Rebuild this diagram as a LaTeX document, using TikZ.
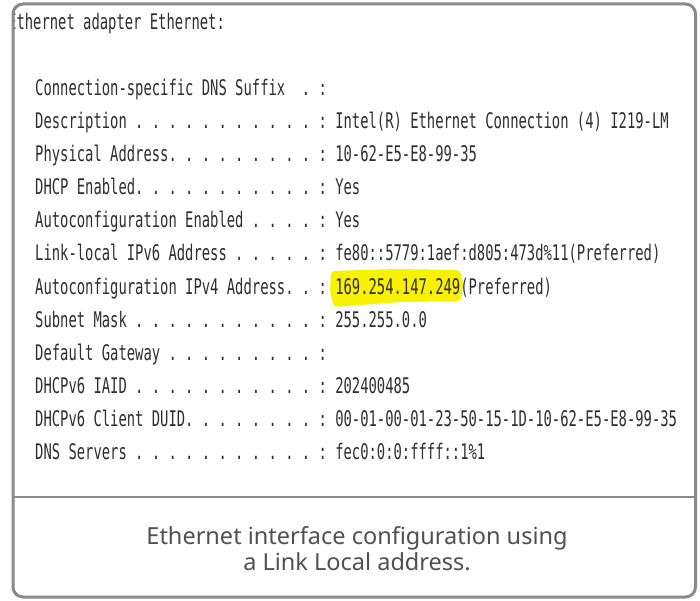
\documentclass[tikz,border=0pt]{standalone}
\usepackage{fontspec}
\usepackage{graphicx}
\setmainfont{Noto Sans}
\newfontfamily\consfont{DejaVu Sans Mono}
\definecolor{framegray}{HTML}{8A8A8A}
\definecolor{termtext}{HTML}{2E2E2E}
\definecolor{captext}{HTML}{505050}
\definecolor{marker}{HTML}{F8F200}
% condensed console text: monospace glyphs squeezed horizontally
\newcommand\termtxt[1]{\scalebox{0.644}[1]{\frenchspacing #1}}
\tikzset{
  termline/.style={anchor=base west, inner sep=0pt, text=termtext,
    font=\consfont\fontsize{21.5}{25}\selectfont},
  captionline/.style={anchor=base, inner sep=0pt, text=captext,
    font=\fontsize{23.5}{28}\selectfont},
  frameline/.style={draw=framegray, line width=3pt},
}
\begin{document}
\begin{tikzpicture}[x=1pt,y=-1pt]
\useasboundingbox (0,0) rectangle (700,601);
\fill[white] (0,0) rectangle (700,601);

% marker highlight behind the IPv4 address
\fill[marker, rounded corners=4pt]
  (331,271) -- (395,269) -- (460,270) -- (463,283) -- (461,301)
  -- (400,302) -- (334,307) -- (330,292) -- cycle;

% ipconfig output
\node[termline] (hdr) at (8,30) {\termtxt{Ethernet adapter Ethernet:}};
\node[termline] (l1)  at (35,96)  {\termtxt{Connection-specific DNS Suffix\ \ . :}};
\node[termline] (l2)  at (35,129) {\termtxt{Description . . . . . . . . . . . : Intel(R) Ethernet Connection (4) I219-LM}};
\node[termline] (l3)  at (35,162) {\termtxt{Physical Address. . . . . . . . . : 10-62-E5-E8-99-35}};
\node[termline] (l4)  at (35,195) {\termtxt{DHCP Enabled. . . . . . . . . . . : Yes}};
\node[termline] (l5)  at (35,228) {\termtxt{Autoconfiguration Enabled . . . . : Yes}};
\node[termline] (l6)  at (35,261) {\termtxt{Link-local IPv6 Address . . . . . : fe80::5779:1aef:d805:473d\%11(Preferred)}};
\node[termline] (l7)  at (35,294) {\termtxt{Autoconfiguration IPv4 Address. . : 169.254.147.249(Preferred)}};
\node[termline] (l8)  at (35,327) {\termtxt{Subnet Mask . . . . . . . . . . . : 255.255.0.0}};
\node[termline] (l9)  at (35,360) {\termtxt{Default Gateway . . . . . . . . . :}};
\node[termline] (l10) at (35,393) {\termtxt{DHCPv6 IAID . . . . . . . . . . . : 202400485}};
\node[termline] (l11) at (35,426) {\termtxt{DHCPv6 Client DUID. . . . . . . . : 00-01-00-01-23-50-15-1D-10-62-E5-E8-99-35}};
\node[termline] (l12) at (35,459) {\termtxt{DNS Servers . . . . . . . . . . . : fec0:0:0:ffff::1\%1}};

% white margin left of the frame hides the clipped first letter
\fill[white] (0,0) rectangle (12,40);

% frame with square top corners and rounded bottom corners
\draw[frameline, rounded corners=10pt]
  (13,4) -- (695.5,4) -- (695.5,597) -- (13,597) -- cycle;
\draw[frameline, line width=2.5pt] (13,497) -- (695.5,497);

% caption
\node[captionline] (cap1) at (357,544) {Ethernet interface configuration using};
\node[captionline] (cap2) at (357,570) {a Link Local address.};
\end{tikzpicture}
\end{document}
